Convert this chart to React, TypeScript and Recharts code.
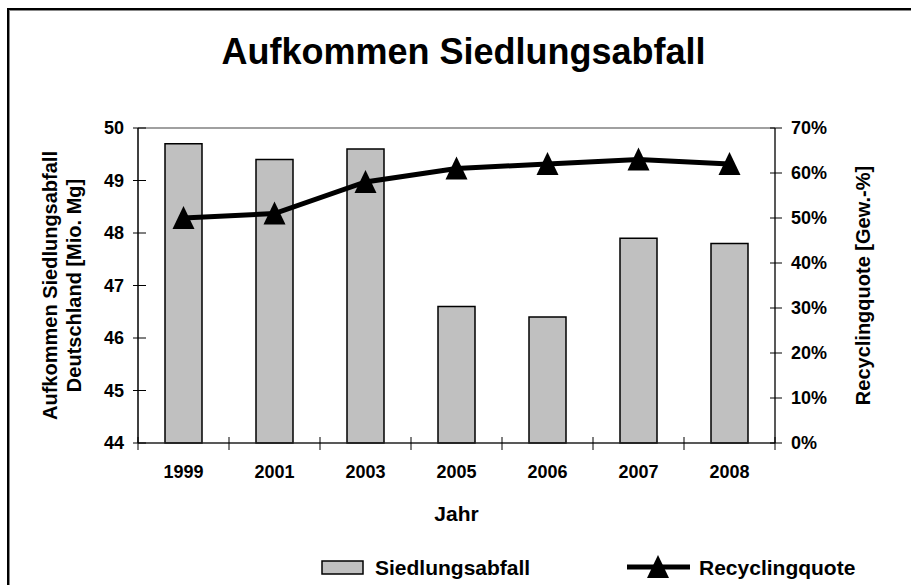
import { ComposedChart, Bar, Line, XAxis, YAxis, ReferenceLine, Label } from 'recharts';

const years = ['1999', '2001', '2003', '2005', '2006', '2007', '2008'];
const abfall = [49.7, 49.4, 49.6, 46.6, 46.4, 47.9, 47.8];
const quote = [50, 51, 58, 61, 62, 63, 62];
const leftTicks = [44, 45, 46, 47, 48, 49, 50];
const rightTicks = [0, 10, 20, 30, 40, 50, 60, 70];

const data = years.map((year, i) => ({ year, abfall: abfall[i], quote: quote[i] }));

const FONT = '"Liberation Sans", Arial, sans-serif';

function LeftTick({ x, y, payload }: any) {
  const ax = x + 13;
  return (
    <g>
      <line x1={ax - 5} x2={ax + 8} y1={y} y2={y} stroke="#000" strokeWidth={1} />
      <text x={x - 1} y={y} textAnchor="end" dominantBaseline="central" fontFamily={FONT} fontWeight="bold" fontSize={18} fill="#000">
        {payload.value}
      </text>
    </g>
  );
}

function RightTick({ x, y, payload }: any) {
  const ax = x - 13;
  return (
    <g>
      <line x1={ax - 5} x2={ax + 7} y1={y} y2={y} stroke="#000" strokeWidth={1} />
      <text x={x + 3} y={y} textAnchor="start" dominantBaseline="central" fontFamily={FONT} fontWeight="bold" fontSize={18} fill="#000">
        {payload.value}%
      </text>
    </g>
  );
}

function YearTick({ x, y, payload, index, visibleTicksCount }: any) {
  const half = payload.offset || 45.5;
  const ay = y - 10;
  return (
    <g>
      <line x1={x - half} x2={x - half} y1={ay - 6} y2={ay + 7} stroke="#000" strokeWidth={1} />
      {index === visibleTicksCount - 1 && (
        <line x1={x + half} x2={x + half} y1={ay - 6} y2={ay + 7} stroke="#000" strokeWidth={1} />
      )}
      <text x={x} y={ay + 29} textAnchor="middle" dominantBaseline="central" fontFamily={FONT} fontWeight="bold" fontSize={18} fill="#000">
        {payload.value}
      </text>
    </g>
  );
}

function Triangle({ cx, cy }: any) {
  if (cx == null || cy == null) return null;
  return <polygon points={`${cx},${cy - 12} ${cx - 11},${cy + 11} ${cx + 11},${cy + 11}`} fill="#000" />;
}

function LeftTitle({ viewBox }: any) {
  const cx = 62;
  const cy = viewBox.y + viewBox.height / 2;
  return (
    <g transform={`rotate(-90 ${cx} ${cy})`} fontFamily={FONT} fontWeight="bold" fontSize={20} fill="#000">
      <text x={cx} y={cy - 12} textAnchor="middle" dominantBaseline="central">Aufkommen Siedlungsabfall</text>
      <text x={cx} y={cy + 12} textAnchor="middle" dominantBaseline="central">Deutschland [Mio. Mg]</text>
    </g>
  );
}

function RightTitle({ viewBox }: any) {
  const cx = 863;
  const cy = viewBox.y + viewBox.height / 2;
  return (
    <text transform={`rotate(-90 ${cx} ${cy})`} x={cx} y={cy} textAnchor="middle" dominantBaseline="central" fontFamily={FONT} fontWeight="bold" fontSize={20} fill="#000">
      Recyclingquote [Gew.-%]
    </text>
  );
}

function XTitle({ viewBox }: any) {
  const cx = viewBox.x + viewBox.width / 2;
  return (
    <text x={cx} y={513} textAnchor="middle" dominantBaseline="central" fontFamily={FONT} fontWeight="bold" fontSize={21} fill="#000">
      Jahr
    </text>
  );
}

export default function App() {
  return (
    <div style={{ position: 'fixed', left: 0, top: 0, width: 911, height: 585, overflow: 'hidden', background: '#fff', fontFamily: FONT }}>
      <div
        style={{
          position: 'absolute',
          left: 7,
          top: 8,
          width: 1000,
          height: 1000,
          borderTop: '2px solid #000',
          borderLeft: '2px solid #000',
          boxShadow: 'inset 1px 1px 0 #888',
        }}
      />
      <div style={{ position: 'absolute', left: 0, width: 911, top: 30, textAlign: 'center', fontSize: 36, fontWeight: 'bold', lineHeight: '44px', color: '#000', paddingLeft: 16, boxSizing: 'border-box' }}>
        Aufkommen Siedlungsabfall
      </div>
      <div style={{ position: 'absolute', left: 0, top: 0 }}>
        <ComposedChart width={911} height={585} data={data} margin={{ top: 128, right: 0, bottom: 102, left: 0 }}>
          <XAxis
            dataKey="year"
            height={40}
            axisLine={{ stroke: '#222', strokeWidth: 1.5 }}
            tickLine={false}
            tickSize={0}
            tickMargin={10}
            tick={<YearTick />}
            interval={0}
          >
            <Label content={<XTitle />} />
          </XAxis>
          <YAxis
            yAxisId="left"
            width={138}
            domain={[44, 50]}
            ticks={leftTicks}
            interval={0}
            axisLine={{ stroke: '#000', strokeWidth: 1.5 }}
            tickLine={false}
            tickSize={5}
            tickMargin={8}
            tick={<LeftTick />}
          >
            <Label content={<LeftTitle />} />
          </YAxis>
          <YAxis
            yAxisId="right"
            orientation="right"
            width={136}
            domain={[0, 70]}
            ticks={rightTicks}
            interval={0}
            axisLine={{ stroke: '#222', strokeWidth: 1.5 }}
            tickLine={false}
            tickSize={5}
            tickMargin={8}
            tick={<RightTick />}
          >
            <Label content={<RightTitle />} />
          </YAxis>
          <ReferenceLine yAxisId="left" y={50} stroke="#808080" strokeWidth={1.5} />
          <Bar yAxisId="left" dataKey="abfall" fill="#c0c0c0" stroke="#000" strokeWidth={1.5} barSize={37} isAnimationActive={false} />
          <Line
            yAxisId="right"
            dataKey="quote"
            type="linear"
            stroke="#000"
            strokeWidth={5}
            dot={<Triangle />}
            activeDot={false}
            isAnimationActive={false}
          />
        </ComposedChart>
      </div>
      <svg style={{ position: 'absolute', left: 0, top: 0 }} width={911} height={585}>
        <rect x={322} y={561} width={41} height={13} fill="#c0c0c0" stroke="#000" strokeWidth={1.5} />
        <text x={375} y={567} dominantBaseline="central" fontFamily={FONT} fontWeight="bold" fontSize={21} fill="#000">Siedlungsabfall</text>
        <line x1={627} x2={690} y1={567} y2={567} stroke="#000" strokeWidth={5} />
        <polygon points="658,555 647,578 669,578" fill="#000" />
        <text x={699} y={567} dominantBaseline="central" fontFamily={FONT} fontWeight="bold" fontSize={21} fill="#000">Recyclingquote</text>
      </svg>
    </div>
  );
}
